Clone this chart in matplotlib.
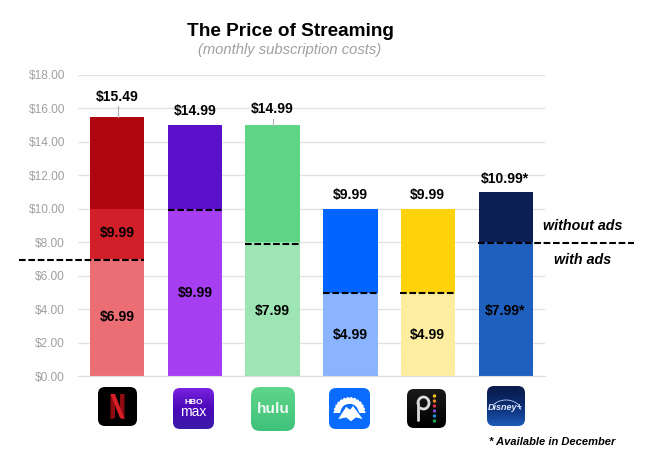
import numpy as np
import matplotlib
matplotlib.use('Agg')
import matplotlib.pyplot as plt
from matplotlib.patches import FancyBboxPatch, Polygon, Circle, Wedge
from matplotlib.colors import LinearSegmentedColormap

services = ['Netflix', 'HBO Max', 'Hulu', 'Paramount+', 'Peacock', 'Disney+']
base_values = [6.99, 9.99, 7.99, 4.99, 4.99, 7.99]
mid_values = [3.00, 0, 0, 0, 0, 0]
top_values = [5.50, 5.00, 7.00, 5.00, 5.00, 3.00]
base_colors = ['#eb6e75', '#a63ef2', '#9de5b3', '#8ab4ff', '#fdeda0', '#1f5fbd']
mid_colors = ['#d12029', '#a63ef2', '#9de5b3', '#8ab4ff', '#fdeda0', '#1f5fbd']
top_colors = ['#b0060f', '#5a10c8', '#5dd585', '#0064ff', '#ffd20a', '#0c1f55']
top_labels = ['$15.49', '$14.99', '$14.99', '$9.99', '$9.99', '$10.99*']
base_labels = ['$6.99', '$9.99', '$7.99', '$4.99', '$4.99', '$7.99*']
y_ticks = [0, 2, 4, 6, 8, 10, 12, 14, 16, 18]

plt.rcParams['font.family'] = ['Liberation Sans', 'DejaVu Sans']

W, H = 646, 459
fig = plt.figure(figsize=(W / 100, H / 100), dpi=100)
ax = fig.add_axes([78 / W, 1 - 376 / H, (545 - 78) / W, (376 - 75) / H])
x = np.arange(len(services))
base = np.array(base_values)
mid = np.array(mid_values)
top = np.array(top_values)

ax.bar(x, base, width=0.7, color=base_colors, zorder=2)
ax.bar(x, mid, width=0.7, bottom=base, color=mid_colors, zorder=2)
ax.bar(x, top, width=0.7, bottom=base + mid, color=top_colors, zorder=2)

ax.set_xlim(-0.5, 5.5)
ax.set_ylim(0, 18)
ax.set_yticks(y_ticks)
ax.set_yticklabels(['$%.2f' % t for t in y_ticks], color='#a0a0a0', fontsize=8.6)
ax.set_xticks([])
ax.tick_params(axis='y', length=0, pad=9.5)
ax.grid(axis='y', color='#e2e2e2', lw=1, zorder=0)
ax.set_axisbelow(True)
for s in ['top', 'right', 'left']:
    ax.spines[s].set_visible(False)
ax.spines['bottom'].set_color('#dcdcdc')

# overlay in pixel coords for the annotations and logos
ov = fig.add_axes([0, 0, 1, 1], facecolor='none')
ov.set_xlim(0, W)
ov.set_ylim(H, 0)
ov.axis('off')

ov.text(290, 31, 'The Price of Streaming', ha='center', va='center', fontsize=13.7,
        fontweight='bold', color='black')
ov.text(289.5, 50, '(monthly subscription costs)', ha='center', va='center', fontsize=10.6,
        style='italic', color='#a0a0a0')

# value labels
top_pos = [(117, 96), (195, 110), (272.5, 108), (350, 193), (427.5, 194), (505, 178)]
base_pos = [(117, 316), (195, 292), (272.5, 309), (350, 333), (427.5, 333), (505, 309)]
for lab, p in zip(top_labels, top_pos):
    ov.text(p[0], p[1], lab, ha='center', va='center_baseline', fontsize=10, fontweight='bold')
for lab, p in zip(base_labels, base_pos):
    ov.text(p[0], p[1], lab, ha='center', va='center_baseline', fontsize=10, fontweight='bold')
ov.text(117, 232, '$9.99', ha='center', va='center_baseline', fontsize=10, fontweight='bold')

# leader lines
ov.plot([117.5, 117.5], [106, 117], color='#b0b0b0', lw=0.8)
ov.plot([272.5, 272.5], [119, 126], color='#b0b0b0', lw=0.8)

# dashed ad tier lines
dash = dict(color='black', lw=1.5, dashes=(3.2, 1.3))
ov.plot([19, 144], [259.5, 259.5], **dash)
ov.plot([168, 222], [210, 210], **dash)
ov.plot([245, 300], [243.5, 243.5], **dash)
ov.plot([323, 377], [293, 293], **dash)
ov.plot([400, 455], [293, 293], **dash)
ov.plot([478, 634], [243, 243], **dash)

ov.text(583, 226, 'without ads', ha='center', va='center', fontsize=10.3,
        fontweight='bold', style='italic')
ov.text(583, 260, 'with ads', ha='center', va='center', fontsize=10.3,
        fontweight='bold', style='italic')
ov.text(552.5, 442, '* Available in December', ha='center', va='center', fontsize=8,
        fontweight='bold', style='italic')


def tile(x0, y0, x1, y1, colors, rad=7):
    # rounded icon with a vertical gradient
    patch = FancyBboxPatch((x0 + rad, y0 + rad), x1 - x0 - 2 * rad, y1 - y0 - 2 * rad,
                           boxstyle='round,pad=%d,rounding_size=%d' % (rad, rad),
                           fc='none', ec='none', transform=ov.transData)
    ov.add_patch(patch)
    cmap = LinearSegmentedColormap.from_list('t', colors)
    im = ov.imshow(np.linspace(0, 1, 64).reshape(-1, 1), cmap=cmap, aspect='auto',
                   extent=(x0, x1, y1, y0), zorder=3)
    im.set_clip_path(patch)


# Netflix
tile(98, 387, 137, 426, ['#000000', '#000000'])
ov.add_patch(Polygon([(110.5, 394), (115, 394), (115, 418), (110.5, 419)], fc='#8f0d12', zorder=4))
ov.add_patch(Polygon([(120, 394), (124.5, 394), (124.5, 419), (120, 418)], fc='#8f0d12', zorder=4))
ov.add_patch(Polygon([(110.5, 394), (115, 394), (124.5, 419), (120, 418)], fc='#d81f26', zorder=5))

# HBO Max
tile(173, 388, 214, 429, ['#7a22e0', '#4a08b8', '#3a1aa8'])
ov.text(193.5, 402, 'HBO', ha='center', va='center', fontsize=6, fontweight='bold',
        color='white', zorder=5)
ov.text(193.5, 412.5, 'max', ha='center', va='center', fontsize=10, color='white', zorder=5)

# Hulu
tile(251, 387, 295, 431, ['#5fd58a', '#3fc27c'], rad=9)
ov.text(273, 409, 'hulu', ha='center', va='center', fontsize=11, fontweight='bold',
        color='#eefaf2', zorder=5)

# Paramount
tile(329, 388, 370, 429, ['#0a6cff', '#0a6cff'])
ov.add_patch(Wedge((349.5, 413), 16, 180, 360, width=7, fc='white', ec='none', zorder=4))
ov.add_patch(Wedge((349.5, 413), 9, 180, 360, fc='#0a6cff', ec='none', zorder=4))
arch = np.linspace(np.pi * 1.05, np.pi * 1.95, 13)
for a in arch:
    ov.add_patch(Circle((349.5 + 16 * np.cos(a), 413 + 16 * np.sin(a)), 0.9, fc='#0a6cff',
                        ec='none', zorder=5))
ov.add_patch(Polygon([(337, 420), (346, 406), (350, 409), (353, 405), (364, 420),
                      (356, 418), (351, 422), (346, 418)], fc='white', ec='#0a6cff',
                     lw=0.8, zorder=6))

# Peacock
tile(407, 389, 446, 428, ['#1a1a1a', '#000000'])
ov.plot([418, 418], [420, 403], color='#dcdcdc', lw=2, solid_capstyle='round', zorder=5)
bowl = np.linspace(np.pi, 2.65 * np.pi, 40)
ov.plot(423.5 + 5.5 * np.cos(bowl), 403 + 6 * np.sin(bowl), color='#dcdcdc', lw=2, zorder=5)
for yy, c in zip([396, 401, 406, 411, 416, 421],
                 ['#f5c518', '#f08a24', '#e0304a', '#7a4fd0', '#1f8fd8', '#1fa85a']):
    ov.add_patch(Circle((434.5, yy), 1.7, fc=c, ec='none', zorder=5))

# Disney+
tile(487, 386, 525, 426, ['#0a1a4a', '#0c2d72', '#1d5ab8'])
ov.text(505, 408, 'Disney+', ha='center', va='center', fontsize=6.5, style='italic',
        fontweight='bold', color='#dfe9ff', zorder=5)
arc = np.linspace(np.pi * 1.2, np.pi * 1.95, 30)
ov.plot(506 + 15 * np.cos(arc), 411 + 11 * np.sin(arc), color='#bcd3f5', lw=0.6, zorder=5)

ov.set_xlim(0, W)
ov.set_ylim(H, 0)
ov.set_aspect('auto')

fig.savefig('out.png', dpi=100)
